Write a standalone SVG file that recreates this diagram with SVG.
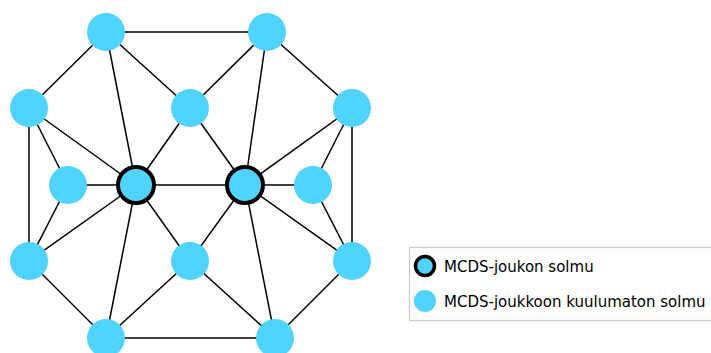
<svg xmlns="http://www.w3.org/2000/svg" width="711" height="353" viewBox="0 0 711 353">
<style>
.e{stroke:#000;stroke-width:1.5;fill:none}
.n{fill:#50d3fe}
.m{fill:#50d3fe;stroke:#000;stroke-width:4}
.t{font-family:"DejaVu Sans",sans-serif;font-size:15px;fill:#000}
</style>
<rect width="711" height="353" fill="#fff"/>
<g id="edges">
<line class="e" x1="106" y1="32" x2="267" y2="32"/>
<line class="e" x1="106" y1="32" x2="29" y2="108"/>
<line class="e" x1="106" y1="32" x2="136" y2="185"/>
<line class="e" x1="106" y1="32" x2="190" y2="108"/>
<line class="e" x1="267" y1="32" x2="190" y2="108"/>
<line class="e" x1="267" y1="32" x2="245" y2="185"/>
<line class="e" x1="267" y1="32" x2="352" y2="108"/>
<line class="e" x1="29" y1="108" x2="29" y2="261"/>
<line class="e" x1="29" y1="108" x2="68" y2="185"/>
<line class="e" x1="29" y1="108" x2="136" y2="185"/>
<line class="e" x1="190" y1="108" x2="136" y2="185"/>
<line class="e" x1="190" y1="108" x2="245" y2="185"/>
<line class="e" x1="352" y1="108" x2="245" y2="185"/>
<line class="e" x1="352" y1="108" x2="313" y2="185"/>
<line class="e" x1="352" y1="108" x2="352" y2="261"/>
<line class="e" x1="68" y1="185" x2="136" y2="185"/>
<line class="e" x1="136" y1="185" x2="245" y2="185"/>
<line class="e" x1="245" y1="185" x2="313" y2="185"/>
<line class="e" x1="68" y1="185" x2="29" y2="261"/>
<line class="e" x1="136" y1="185" x2="29" y2="261"/>
<line class="e" x1="136" y1="185" x2="106" y2="338"/>
<line class="e" x1="136" y1="185" x2="190" y2="261"/>
<line class="e" x1="245" y1="185" x2="190" y2="261"/>
<line class="e" x1="245" y1="185" x2="275" y2="338"/>
<line class="e" x1="245" y1="185" x2="352" y2="261"/>
<line class="e" x1="313" y1="185" x2="352" y2="261"/>
<line class="e" x1="29" y1="261" x2="106" y2="338"/>
<line class="e" x1="190" y1="261" x2="106" y2="338"/>
<line class="e" x1="190" y1="261" x2="275" y2="338"/>
<line class="e" x1="352" y1="261" x2="275" y2="338"/>
<line class="e" x1="106" y1="338" x2="275" y2="338"/>
</g>
<g id="n1"><circle class="n" cx="106" cy="32" r="19"/></g>
<g id="n2"><circle class="n" cx="267" cy="32" r="19"/></g>
<g id="n3"><circle class="n" cx="29" cy="108" r="19"/></g>
<g id="n4"><circle class="n" cx="190" cy="108" r="19"/></g>
<g id="n5"><circle class="n" cx="352" cy="108" r="19"/></g>
<g id="n6"><circle class="n" cx="68" cy="185" r="19"/></g>
<g id="n7"><circle class="m" cx="136" cy="185" r="18"/></g>
<g id="n8"><circle class="m" cx="245" cy="185" r="18"/></g>
<g id="n9"><circle class="n" cx="313" cy="185" r="19"/></g>
<g id="n10"><circle class="n" cx="29" cy="261" r="19"/></g>
<g id="n11"><circle class="n" cx="190" cy="261" r="19"/></g>
<g id="n12"><circle class="n" cx="352" cy="261" r="19"/></g>
<g id="n13"><circle class="n" cx="106" cy="338" r="19"/></g>
<g id="n14"><circle class="n" cx="275" cy="338" r="19"/></g>
<g id="legend">
<rect x="409.5" y="247.5" width="320" height="73" fill="#fff" stroke="#c8c8c8" stroke-width="1.2"/>
<circle class="m" cx="425" cy="266" r="9.5" style="stroke-width:3.5"/>
<text class="t" x="444" y="272">MCDS-joukon solmu</text>
<circle class="n" cx="425" cy="301" r="11"/>
<text class="t" x="444" y="306.5">MCDS-joukkoon kuulumaton solmu</text>
</g>
</svg>
